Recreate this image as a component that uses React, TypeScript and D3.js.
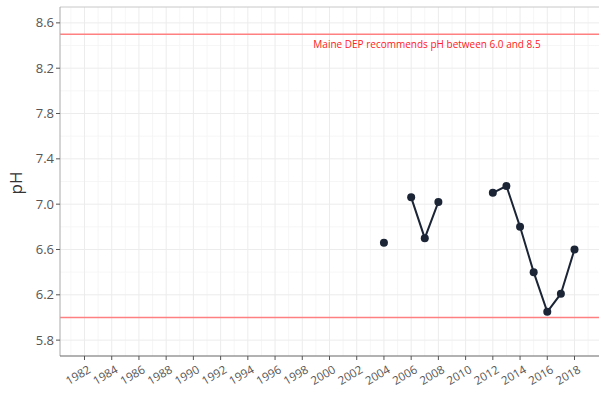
import React from "react";
import * as d3 from "d3";

const years = [2004, 2006, 2007, 2008, 2012, 2013, 2014, 2015, 2016, 2017, 2018];
const phValues = [6.66, 7.06, 6.7, 7.02, 7.1, 7.16, 6.8, 6.4, 6.05, 6.21, 6.6];
const xTicks = d3.range(1982, 2019, 2);
const yTicks = [5.8, 6.2, 6.6, 7.0, 7.4, 7.8, 8.2, 8.6];
const refLines = [6.0, 8.5];
const noteText = "Maine DEP recommends pH between 6.0 and 8.5";

const W = 599, H = 394;
const left = 60, top = 7, right = 599, bottom = 356;

export default function App() {
  const x = d3.scaleLinear().domain([1980.2, 2019.8]).range([left, right]);
  const y = d3.scaleLinear().domain([5.66, 8.74]).range([bottom, top]);
  const xMinor = d3.range(1981, 2020, 2);
  const yMinor = [5.6, 6.0, 6.4, 6.8, 7.2, 7.6, 8.0, 8.4, 8.8].filter(v => v > 5.66 && v < 8.74);

  const segs: { yr: number; v: number }[][] = [];
  years.forEach((yr, i) => {
    const p = { yr, v: phValues[i] };
    if (i > 0 && yr - years[i - 1] === 1) segs[segs.length - 1].push(p);
    else segs.push([p]);
  });
  const line = d3.line<{ yr: number; v: number }>().x(d => x(d.yr)).y(d => y(d.v));
  const font = "'Open Sans', 'DejaVu Sans', sans-serif";

  return (
    <svg width={W} height={H} style={{ position: "absolute", left: 0, top: 0, background: "#fff" }}>
      <rect x={left} y={top} width={right - left} height={bottom - top} fill="#fff" />
      {xMinor.map(t => (
        <line key={"xm" + t} x1={x(t)} x2={x(t)} y1={top} y2={bottom} stroke="#f4f4f4" strokeWidth={0.8} />
      ))}
      {yMinor.map(t => (
        <line key={"ym" + t} x1={left} x2={right} y1={y(t)} y2={y(t)} stroke="#f4f4f4" strokeWidth={0.8} />
      ))}
      {xTicks.map(t => (
        <line key={"xg" + t} x1={x(t)} x2={x(t)} y1={top} y2={bottom} stroke="#ececec" strokeWidth={1} />
      ))}
      {yTicks.map(t => (
        <line key={"yg" + t} x1={left} x2={right} y1={y(t)} y2={y(t)} stroke="#ececec" strokeWidth={1} />
      ))}
      {refLines.map(v => (
        <line key={"r" + v} x1={left} x2={right} y1={y(v)} y2={y(v)} stroke="#ff8080" strokeWidth={1.5} />
      ))}
      <text x={427} y={48} fill="#ff2020" fontSize={10} fontFamily={font} textAnchor="middle">{noteText}</text>
      {segs.filter(s => s.length > 1).map((s, i) => (
        <path key={"s" + i} d={line(s) || ""} fill="none" stroke="#1b2536" strokeWidth={2} />
      ))}
      {years.map((yr, i) => (
        <circle key={"p" + yr} cx={x(yr)} cy={y(phValues[i])} r={4} fill="#1b2536" />
      ))}
      <line x1={left} x2={right} y1={top} y2={top} stroke="#c8c8c8" strokeWidth={1} />
      <line x1={left} x2={left} y1={top} y2={bottom} stroke="#aaaaaa" strokeWidth={1} />
      <line x1={left} x2={right} y1={bottom} y2={bottom} stroke="#666" strokeWidth={1.2} />
      {yTicks.map(t => (
        <g key={"yt" + t}>
          <line x1={left - 4} x2={left} y1={y(t)} y2={y(t)} stroke="#555" />
          <text x={left - 6} y={y(t)} dy="0.35em" textAnchor="end" fontSize={13} fill="#555" fontFamily={font}>
            {t.toFixed(1)}
          </text>
        </g>
      ))}
      {xTicks.map(t => (
        <g key={"xt" + t}>
          <line x1={x(t)} x2={x(t)} y1={bottom} y2={bottom + 4} stroke="#555" />
          <text
            transform={`translate(${x(t) + 3},${bottom + 9}) rotate(-30)`}
            textAnchor="end"
            dy="0.7em"
            fontSize={11.5}
            fill="#555"
            fontFamily={font}
          >
            {t}
          </text>
        </g>
      ))}
      <text transform={`translate(22,183) rotate(-90)`} textAnchor="middle" fontSize={17} fill="#333" fontFamily={font}>
        pH
      </text>
    </svg>
  );
}
